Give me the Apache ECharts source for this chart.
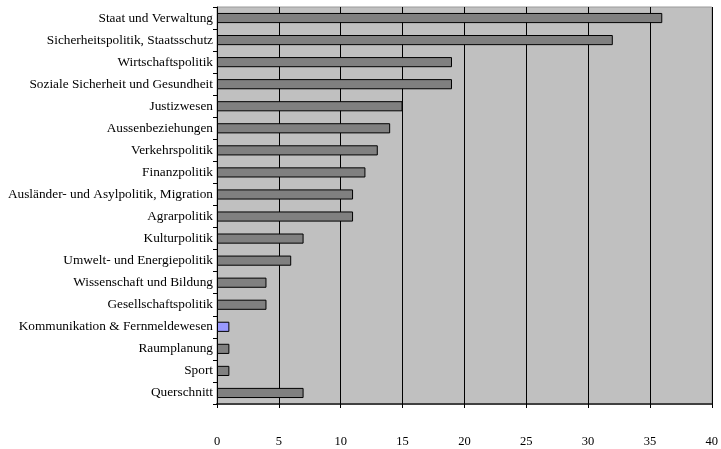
<!DOCTYPE html>
<html><head><meta charset="utf-8">
<script src="https://cdn.jsdelivr.net/npm/echarts@6/dist/echarts.min.js"></script>
<style>html,body{margin:0;padding:0;background:#fff}#c{width:721px;height:449px}</style>
</head><body><div id="c"></div>
<script>
const categories = ["Staat und Verwaltung","Sicherheitspolitik, Staatsschutz","Wirtschaftspolitik","Soziale Sicherheit und Gesundheit","Justizwesen","Aussenbeziehungen","Verkehrspolitik","Finanzpolitik","Ausländer- und Asylpolitik, Migration","Agrarpolitik","Kulturpolitik","Umwelt- und Energiepolitik","Wissenschaft und Bildung","Gesellschaftspolitik","Kommunikation & Fernmeldewesen","Raumplanung","Sport","Querschnitt"];
const values = [36,32,19,19,15,14,13,12,11,11,7,6,4,4,1,1,1,7];
const highlightCategory = "Kommunikation & Fernmeldewesen";
const xTicks = [0,5,10,15,20,25,30,35,40];

const chart = echarts.init(document.getElementById('c'), null, {renderer:'canvas'});
const font = '"Liberation Serif","Times New Roman",serif';
chart.setOption({
  animation:false,
  backgroundColor:'#fff',
  grid:{left:217,top:7,right:7,bottom:45,show:true,backgroundColor:'#C0C0C0',borderColor:'#9a9a9a',borderWidth:1},
  xAxis:[{
    type:'value',min:xTicks[0],max:xTicks[xTicks.length-1],interval:5,position:'bottom',
    axisLine:{show:true,lineStyle:{color:'#404040',width:2}},
    axisTick:{show:true,length:4,lineStyle:{color:'#000'}},
    axisLabel:{margin:31,color:'#000',fontFamily:font,fontSize:12.5},
    splitLine:{show:true,lineStyle:{color:'#000',width:1}}
  },{
    type:'value',min:xTicks[0],max:xTicks[xTicks.length-1],interval:5,position:'bottom',
    axisLine:{show:false},
    axisTick:{show:true,inside:true,length:4,lineStyle:{color:'#000'}},
    axisLabel:{show:false},splitLine:{show:false}
  }],
  yAxis:{
    type:'category',data:categories,inverse:true,
    axisLine:{show:true,lineStyle:{color:'#000',width:1}},
    axisTick:{show:true,length:4,lineStyle:{color:'#000'}},
    axisLabel:{margin:4,color:'#000',fontFamily:font,fontSize:13.3,interval:0}
  },
  series:[{
    type:'bar',xAxisIndex:0,barWidth:'46%',
    data:values.map((v,i)=>({value:v,itemStyle:{color:categories[i]===highlightCategory?'#9999FF':'#808080'}})),
    itemStyle:{borderColor:'#000',borderWidth:1}
  }]
});
</script></body></html>
